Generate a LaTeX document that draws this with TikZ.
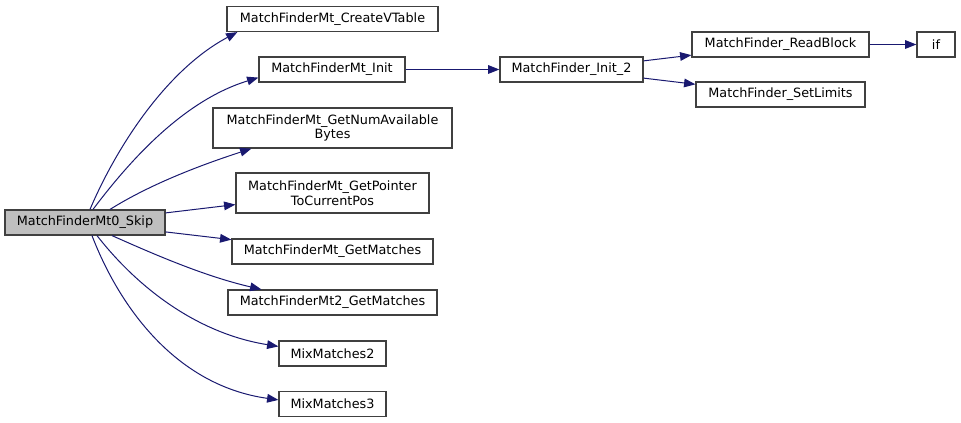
\documentclass[tikz,border=0pt]{standalone}
\usepackage{fontspec}
\setmainfont{DejaVu Sans}
\usetikzlibrary{arrows.meta}

\definecolor{edgeblue}{HTML}{191970}
\definecolor{boxline}{HTML}{404040}
\definecolor{boxfill}{HTML}{BFBFBF}

\begin{document}
\begin{tikzpicture}[x=0.75pt,y=0.75pt,
  fn/.style={draw=boxline, line width=0.9pt, fill=white, inner sep=0pt, align=center,
    font=\fontsize{9.6}{11.2}\selectfont, minimum height=18.75pt},
  call/.style={draw=edgeblue, line width=0.75pt, -{Triangle[length=8.5pt,width=6.5pt]}, fill=none},
]
\useasboundingbox (0,0) rectangle (961,-423);

% caller
\node[fn, fill=boxfill, minimum width=120pt] (skip) at (85,-222.5) {MatchFinderMt0\_Skip};

% callees
\node[fn, minimum width=158.25pt] (createvtable) at (332.5,-19) {MatchFinderMt\_CreateVTable};
\node[fn, minimum width=109.5pt] (init) at (332,-69.5) {MatchFinderMt\_Init};
\node[fn, minimum width=179.25pt, minimum height=30pt] (numavail) at (332.5,-128) {MatchFinderMt\_GetNumAvailable\\Bytes};
\node[fn, minimum width=144.75pt, minimum height=30pt] (pointer) at (332.5,-193) {MatchFinderMt\_GetPointer\\ToCurrentPos};
\node[fn, minimum width=150.75pt] (getmatches) at (332.5,-251.5) {MatchFinderMt\_GetMatches};
\node[fn, minimum width=156.75pt] (mttwo) at (332.5,-302.5) {MatchFinderMt2\_GetMatches};
\node[fn, minimum width=80.25pt] (mixtwo) at (332.5,-353.5) {MixMatches2};
\node[fn, minimum width=80.25pt] (mixthree) at (332.5,-404) {MixMatches3};

\node[fn, minimum width=107.25pt] (inittwo) at (571.5,-69.5) {MatchFinder\_Init\_2};
\node[fn, minimum width=132.75pt] (readblock) at (780.5,-44.5) {MatchFinder\_ReadBlock};
\node[fn, minimum width=126.75pt] (setlimits) at (780.5,-94.5) {MatchFinder\_SetLimits};
\node[fn, minimum width=28.5pt] (if) at (936,-44.5) {if};

% edges
\draw[call] ([xshift=3.75pt]skip.north) .. controls +(67:65) and +(208:82) .. ([xshift=8.25pt]createvtable.south west);
\draw[call] ([xshift=6pt]skip.north) .. controls +(53:62) and +(197:78) .. ([yshift=3.75pt]init.south west);
\draw[call] ([xshift=18.75pt]skip.north) .. controls +(32:47) and +(198:55) .. ([xshift=29.25pt]numavail.south west);
\draw[call] (skip) -- (pointer);
\draw[call] (skip) -- (getmatches);
\draw[call] ([xshift=20.25pt]skip.south) .. controls +(-24:47) and +(167:58) .. ([xshift=25.5pt]mttwo.north west);
\draw[call] ([xshift=9pt]skip.south) .. controls +(-52:69) and +(171:80) .. ([yshift=-4.5pt]mixtwo.north west);
\draw[call] ([xshift=5.25pt]skip.south) .. controls +(-69:74) and +(172:105) .. ([yshift=-6.75pt]mixthree.north west);
\draw[call] (init) -- (inittwo);
\draw[call] (inittwo) -- (readblock);
\draw[call] (inittwo) -- (setlimits);
\draw[call] (readblock) -- (if);
\end{tikzpicture}
\end{document}
